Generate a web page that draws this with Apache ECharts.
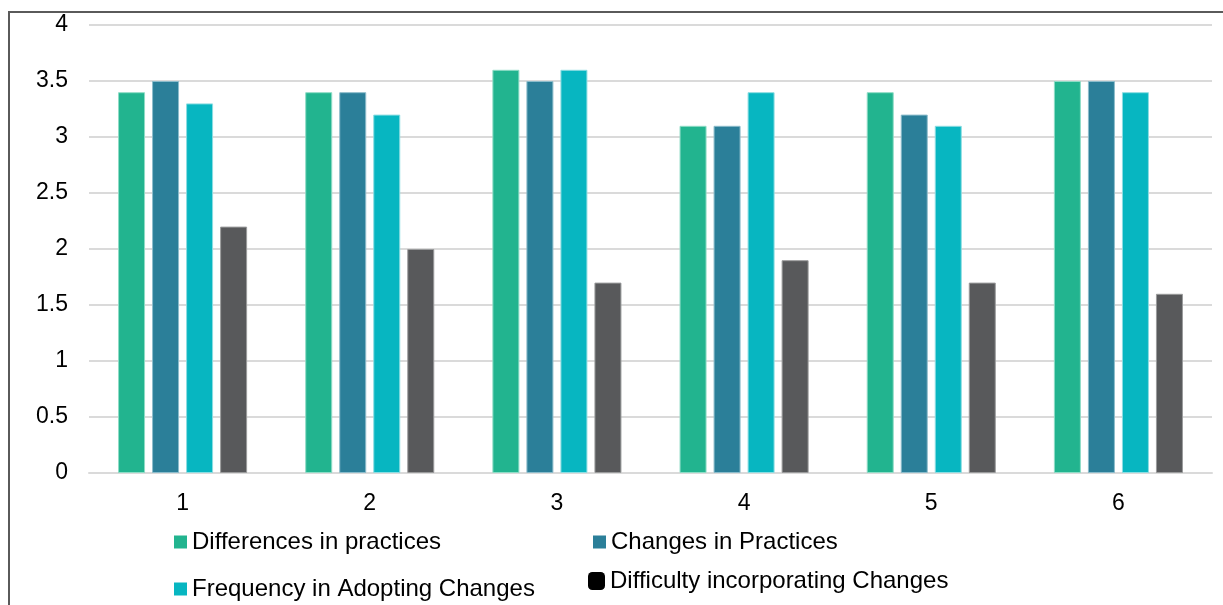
<!DOCTYPE html>
<html>
<head>
<meta charset="utf-8">
<script src="https://cdn.jsdelivr.net/npm/echarts@6/dist/echarts.min.js"></script>
<style>
  html, body { margin: 0; padding: 0; background: #fff; }
  #chart { width: 1223px; height: 605px; }
</style>
</head>
<body>
<div id="chart"></div>
<script>
// categories and values
var categories = ["1", "2", "3", "4", "5", "6"];
var yTicks = [0, 0.5, 1, 1.5, 2, 2.5, 3, 3.5, 4];
var seriesNames = [
    "Differences in practices",
    "Changes in Practices",
    "Frequency in Adopting Changes",
    "Difficulty incorporating Changes"
];
var differences = [3.4, 3.4, 3.6, 3.1, 3.4, 3.5];
var changes = [3.5, 3.4, 3.5, 3.1, 3.2, 3.5];
var frequency = [3.3, 3.2, 3.6, 3.4, 3.1, 3.4];
var difficulty = [2.2, 2.0, 1.7, 1.9, 1.7, 1.6];

var colors = ["#22b48f", "#2b7f99", "#07b6c1", "#58595b"];
var borders = ["#8fdcc6", "#8cbccb", "#8ddde2", "#9a9b9c"];
var font = "'Liberation Sans', Arial, sans-serif";

var makeSeries = function (name, data, i) {
    return {
        name: name,
        type: "bar",
        data: data,
        barWidth: 27,
        barGap: "26%",
        itemStyle: { color: colors[i], borderColor: borders[i], borderWidth: 1 }
    };
};

var makeLegend = function (name, left, top, icon, w, h, iconColor) {
    var item = { name: name };
    if (iconColor) {
        item.itemStyle = { color: iconColor, borderWidth: 0 };
    }
    return {
        data: [item],
        left: left,
        top: top,
        icon: icon,
        itemWidth: w,
        itemHeight: h,
        itemGap: 0,
        padding: 0,
        selectedMode: false,
        itemStyle: { borderWidth: 0 },
        textStyle: { fontFamily: font, fontSize: 24, color: "#000", lineHeight: 24, padding: [0, 0, 0, 0] }
    };
};

var option = {
    animation: false,
    backgroundColor: "#fff",
    color: colors,
    graphic: [{
        type: "rect",
        shape: { x: 9, y: 12, width: 1300, height: 700 },
        style: { fill: null, stroke: "#5a5a5a", lineWidth: 2 },
        silent: true
    }],
    grid: { left: 89, right: 11, top: 25, bottom: 132, containLabel: false },
    legend: [
        makeLegend(seriesNames[0], 174, 530, "rect", 13, 13),
        makeLegend(seriesNames[1], 593, 530, "rect", 13, 13),
        makeLegend(seriesNames[2], 174, 577, "rect", 13, 13),
        makeLegend(seriesNames[3], 588, 569, "roundRect", 17, 18, "#000")
    ],
    xAxis: {
        type: "category",
        data: categories,
        axisLine: { show: true, lineStyle: { color: "#dadada", width: 2 } },
        axisTick: { show: false },
        axisLabel: { margin: 19, fontFamily: font, fontSize: 23, color: "#000" }
    },
    yAxis: {
        type: "value",
        min: yTicks[0],
        max: yTicks[yTicks.length - 1],
        interval: 0.5,
        axisLine: { show: false },
        axisTick: { show: false },
        splitLine: { lineStyle: { color: "#dadada", width: 2 } },
        axisLabel: { margin: 21, fontFamily: font, fontSize: 23, color: "#000" }
    },
    series: [
        makeSeries(seriesNames[0], differences, 0),
        makeSeries(seriesNames[1], changes, 1),
        makeSeries(seriesNames[2], frequency, 2),
        makeSeries(seriesNames[3], difficulty, 3)
    ]
};

var myChart = echarts.init(document.getElementById("chart"));
myChart.setOption(option, true);
</script>
</body>
</html>
